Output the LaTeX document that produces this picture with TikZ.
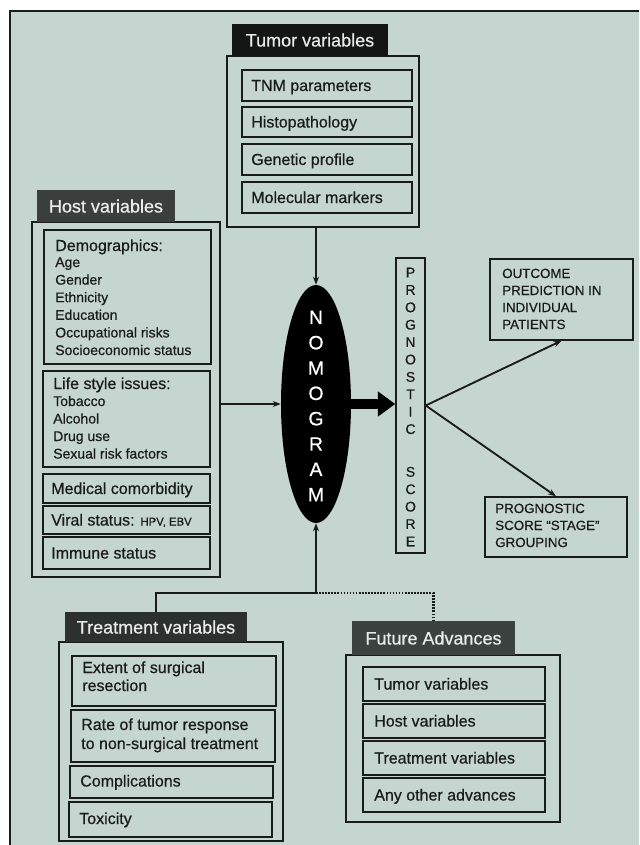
\documentclass[tikz,border=0pt]{standalone}
\usepackage{fontspec}
\setmainfont{Liberation Sans}[RawFeature={embolden=0.6}]
\usetikzlibrary{arrows.meta,fit,shapes.geometric}
\definecolor{paper}{RGB}{197,213,207}
\definecolor{ink}{RGB}{26,28,28}
\definecolor{hdA}{RGB}{20,22,22}
\definecolor{hdB}{RGB}{58,63,61}
\definecolor{hdC}{RGB}{44,49,47}
\definecolor{hdD}{RGB}{60,66,64}
\definecolor{htext}{RGB}{232,236,234}
\begin{document}
\begin{tikzpicture}[x=0.75pt,y=-0.75pt,
  frm/.style={draw=ink,line width=1.1pt,inner sep=0pt,rectangle},
  hdr/.style={fill=#1,draw=none,inner sep=0pt,rectangle},
  htx/.style={inner sep=0pt,anchor=base,text=htext,font=\fontsize{13.5}{16}\selectfont},
  lbl/.style={inner sep=0pt,anchor=base west,text=ink,font=\fontsize{12}{14}\selectfont},
  itm/.style={inner sep=0pt,anchor=base west,text=ink,font=\fontsize{10.5}{12}\selectfont},
  upc/.style={inner sep=0pt,anchor=base west,text=ink,font=\fontsize{10}{12}\selectfont},
  conn/.style={draw=ink,line width=1.4pt},
  tip/.style={-{Stealth[length=6pt,width=4.5pt]}},
  dots/.style={draw=ink,line width=1.6pt,dash pattern=on 1.2pt off 1.1pt}]
\useasboundingbox (0,0) rectangle (639,845);
\fill[white] (0,0) rectangle (639,845);
\fill[paper] (10,11) rectangle (639,845);
\draw[ink,line width=1.6pt] (10,845) -- (10,11) -- (639,11);

% ---------- Tumor variables
\node[frm,fit={(227,56)(419,227)}] (tumorbox) {};
\node[hdr=hdA,fit={(232,24)(388,56)}] (tumorhead) {};
\node[htx] (tumorheadt) at (310,46.5) {Tumor variables};
\node[frm,fit={(242,70)(412,101)}] (tnm) {};
\node[lbl] (tnmt) at (251,91) {TNM parameters};
\node[frm,fit={(242,107)(412,137)}] (histo) {};
\node[lbl] (histot) at (251,127.5) {Histopathology};
\node[frm,fit={(242,144)(412,175)}] (genet) {};
\node[lbl] (genett) at (251,165) {Genetic profile};
\node[frm,fit={(242,182)(412,213)}] (molec) {};
\node[lbl] (molect) at (251,203) {Molecular markers};

% ---------- Host variables
\node[frm,fit={(32,222)(220,577)}] (hostbox) {};
\node[hdr=hdB,fit={(37,190)(175,222)}] (hosthead) {};
\node[htx] (hostheadt) at (106,212.5) {Host variables};
\node[frm,fit={(44,230)(211,364)}] (demo) {};
\node[lbl] (demot) at (55,251) {Demographics:};
\foreach \t [count=\i] in {Age,Gender,Ethnicity,Education,Occupational risks,Socioeconomic status}
  \node[itm] (demo\i) at (55,{249.4+17.6*\i}) {\t};
\node[frm,fit={(43,371)(210,467)}] (life) {};
\node[lbl] (lifet) at (53,389) {Life style issues:};
\foreach \t [count=\i] in {Tobacco,Alcohol,Drug use,Sexual risk factors}
  \node[itm] (life\i) at (53,{388.5+17.5*\i}) {\t};
\node[frm,fit={(43,474)(210,503)}] (medic) {};
\node[lbl] (medict) at (51,494) {Medical comorbidity};
\node[frm,fit={(43,506)(210,534)}] (viral) {};
\node[lbl] (viralt) at (51,525.5) {Viral status: {\fontsize{8.5}{10}\selectfont HPV, EBV}};
\node[frm,fit={(43,537)(210,569)}] (immune) {};
\node[lbl] (immunet) at (51,558.5) {Immune status};

% ---------- Nomogram
\node[ellipse,fill=black,draw=none,minimum width=52.5pt,minimum height=178.5pt,inner sep=0pt] (nomo) at (316,404) {};
\node[inner sep=0pt,align=center,text=white,font=\fontsize{14.5}{19}\selectfont] (nomot) at (316,406) {N\\O\\M\\O\\G\\R\\A\\M};

% ---------- Prognostic score
\node[frm,fit={(396,258)(425,553)}] (progbox) {};
\node[inner sep=0pt,align=center,text=ink,font=\fontsize{10.5}{13.05}\selectfont] (progt) at (410.5,407)
  {P\\R\\O\\G\\N\\O\\S\\T\\I\\C\\[19pt]S\\C\\O\\R\\E};

% ---------- Outcomes
\node[frm,fit={(490,259)(633,340)}] (outbox) {};
\foreach \t [count=\i] in {OUTCOME,PREDICTION IN,INDIVIDUAL,PATIENTS}
  \node[upc] (out\i) at (502,{261+17*\i}) {\t};
\node[frm,fit={(485,497)(627,557)}] (stagebox) {};
\foreach \t [count=\i] in {PROGNOSTIC,SCORE ``STAGE'',GROUPING}
  \node[upc] (stage\i) at (495,{496+17*\i}) {\t};

% ---------- Treatment variables
\node[frm,fit={(59,642)(283,841)}] (treatbox) {};
\node[hdr=hdC,fit={(65,612)(247,642)}] (treathead) {};
\node[htx] (treatheadt) at (156,633.5) {Treatment variables};
\node[frm,fit={(72,656)(276,706)}] (extent) {};
\node[lbl] (extent1) at (82,673) {Extent of surgical};
\node[lbl] (extent2) at (82,691) {resection};
\node[frm,fit={(71,710)(275,762)}] (rate) {};
\node[lbl] (rate1) at (81,730) {Rate of tumor response};
\node[lbl] (rate2) at (81,749) {to non-surgical treatment};
\node[frm,fit={(70,766)(273,798)}] (compl) {};
\node[lbl] (complt) at (80,786.5) {Complications};
\node[frm,fit={(69,802)(272,837)}] (toxic) {};
\node[lbl] (toxict) at (79,824) {Toxicity};

% ---------- Future advances
\node[frm,fit={(346,655)(560,822)}] (futbox) {};
\node[hdr=hdD,fit={(352,621)(515,655)}] (futhead) {};
\node[htx] (futheadt) at (433.5,644.5) {Future Advances};
\node[frm,fit={(363,667)(545,701)}] (fut1) {};
\node[lbl] (fut1t) at (374,689.5) {Tumor variables};
\node[frm,fit={(363,704)(545,738)}] (fut2) {};
\node[lbl] (fut2t) at (374,726.5) {Host variables};
\node[frm,fit={(363,741)(545,775)}] (fut3) {};
\node[lbl] (fut3t) at (374,763.5) {Treatment variables};
\node[frm,fit={(363,778)(545,812)}] (fut4) {};
\node[lbl] (fut4t) at (374,800.5) {Any other advances};

% ---------- Connectors
\coordinate (junc) at (316,593);
\draw[conn,tip] (tumorbox.south -| nomo.north) -- (nomo.north);
\draw[conn,tip] (hostbox.east |- nomo.west) -- (nomo.west);
\draw[draw=black,line width=7pt,-{Triangle[length=13pt,width=18pt]}] (nomo.east) -- (progbox.west |- nomo.east);
\draw[conn,tip] (progbox.east) -- (outbox.south);
\draw[conn,tip] (progbox.east) -- (stagebox.north);
\draw[dots] (junc) -| (futhead.north);
\draw[conn] (treathead.north) |- (junc);
\draw[conn,tip] (junc) -- (nomo.south);
\end{tikzpicture}
\end{document}
